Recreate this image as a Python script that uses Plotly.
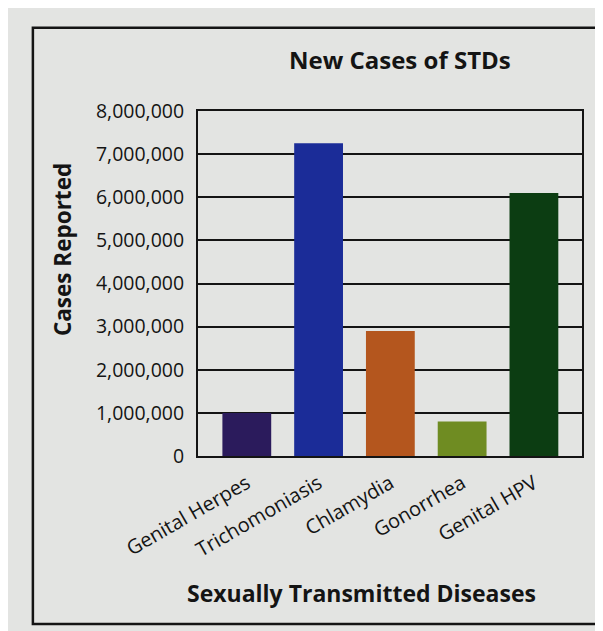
import plotly.graph_objects as go

# datos
diseases = ["Genital Herpes", "Trichomoniasis", "Chlamydia", "Gonorrhea", "Genital HPV"]
cases = [1000000, 7250000, 2900000, 800000, 6100000]
bar_colors = ["#2b1b5c", "#1b2c98", "#b4561e", "#6f8c22", "#0c3d12"]
y_ticks = [0, 1000000, 2000000, 3000000, 4000000, 5000000, 6000000, 7000000, 8000000]
y_tick_text = ["0", "1,000,000", "2,000,000", "3,000,000", "4,000,000",
               "5,000,000", "6,000,000", "7,000,000", "8,000,000"]

PAPER = "#e3e4e2"
INK = "#141414"
FONT = "Open Sans"

fig = go.Figure()
fig.add_trace(go.Bar(
    x=diseases, y=cases,
    marker=dict(color=bar_colors, line=dict(width=0)),
    width=0.68,
))

# la página tiene 8px de margen en el body: se compensa aquí
fig.update_layout(
    width=595, height=623,
    margin=dict(l=190, r=21, t=103, b=175),
    paper_bgcolor=PAPER, plot_bgcolor=PAPER,
    font=dict(family=FONT, color=INK, size=19),
    showlegend=False,
)

fig.update_xaxes(
    range=[-0.68, 4.67],
    tickangle=-30,
    tickfont=dict(size=20),
    showgrid=False, ticks="", ticklabelstandoff=6,
    showline=True, linecolor=INK, linewidth=2, mirror=True,
)
fig.update_yaxes(
    range=[0, 8000000],
    tickvals=y_ticks, ticktext=y_tick_text,
    tickfont=dict(size=19.5),
    showgrid=True, gridcolor=INK, gridwidth=1.8,
    zeroline=False, ticks="", ticklabelstandoff=8,
    showline=True, linecolor=INK, linewidth=2, mirror=True,
)

# títulos como anotaciones para controlar posición
fig.add_annotation(text="<b>New Cases of STDs</b>", xref="paper", yref="paper",
                   x=0.526, y=1.148, xanchor="center", yanchor="middle",
                   showarrow=False, font=dict(size=24))
fig.add_annotation(text="<b>Cases Reported</b>", xref="paper", yref="paper",
                   x=-0.354, y=0.597, xanchor="center", yanchor="middle",
                   textangle=-90, showarrow=False, font=dict(size=22.5))
fig.add_annotation(text="<b>Sexually Transmitted Diseases</b>", xref="paper", yref="paper",
                   x=0.426, y=-0.397, xanchor="center", yanchor="middle",
                   showarrow=False, font=dict(size=23))

# marco exterior de la figura
fig.add_shape(type="rect", xref="paper", yref="paper",
              x0=-0.43, x1=1.06, y0=-0.487, y1=1.241,
              line=dict(color=INK, width=2.5), layer="below")

fig.write_html("out.html")
